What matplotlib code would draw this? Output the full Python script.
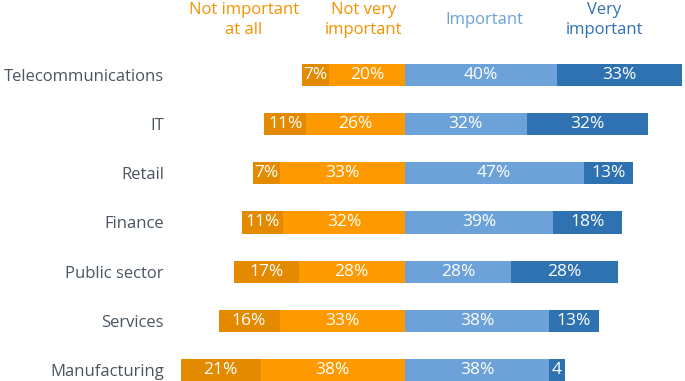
import matplotlib
matplotlib.use("Agg")
import matplotlib.pyplot as plt

plt.rcParams['font.family'] = ['Open Sans', 'DejaVu Sans']

sectors = ["Telecommunications", "IT", "Retail", "Finance",
           "Public sector", "Services", "Manufacturing"]
not_at_all = [7, 11, 7, 11, 17, 16, 21]
not_very = [20, 26, 33, 32, 28, 33, 38]
important = [40, 32, 47, 39, 28, 38, 38]
very = [33, 32, 13, 18, 28, 13, 4]
headers = ["Not important\nat all", "Not very\nimportant", "Important", "Very\nimportant"]

colors = ["#E38A00", "#FF9900", "#6CA2D8", "#2E72B2"]
header_colors = ["#F39200", "#F39200", "#6CA2D8", "#2E72B2"]

fig = plt.figure(figsize=(6.85, 3.81), dpi=100)
ax = fig.add_axes([175 / 685, 0, 510 / 685, 1])

y = list(range(len(sectors)))
h = 0.45

def seg(lefts, widths, color):
    bars = ax.barh(y, widths, left=lefts, height=h, color=color, linewidth=0)
    for yi, l, w in zip(y, lefts, widths):
        txt = f"{w}%" if w >= 5 else f"{w}"
        ax.text(l + w / 2, yi, txt, ha='center', va='center',
                color='white', fontsize=12.5)
    return bars

left2 = [-v for v in not_very]
left1 = [-(a + b) for a, b in zip(not_at_all, not_very)]
left4 = list(important)
seg(left1, not_at_all, colors[0])
seg(left2, not_very, colors[1])
seg([0] * len(y), important, colors[2])
seg(left4, very, colors[3])

ax.set_xlim(-60.5, 73.7)
ax.set_ylim(6.224, -1.525)
ax.set_yticks(y)
ax.set_yticklabels(sectors, fontsize=12, color="#4A5560")
ax.tick_params(axis='y', length=0, pad=8)
ax.set_xticks([])
for s in ax.spines.values():
    s.set_visible(False)

header_x = [-42.4, -10.8, 20.8, 52.4]
for hx, txt, c in zip(header_x, headers, header_colors):
    ax.text(hx, -1.12, txt, ha='center', va='center', color=c,
            fontsize=12, linespacing=1.3)

fig.savefig("out.png", dpi=100)
